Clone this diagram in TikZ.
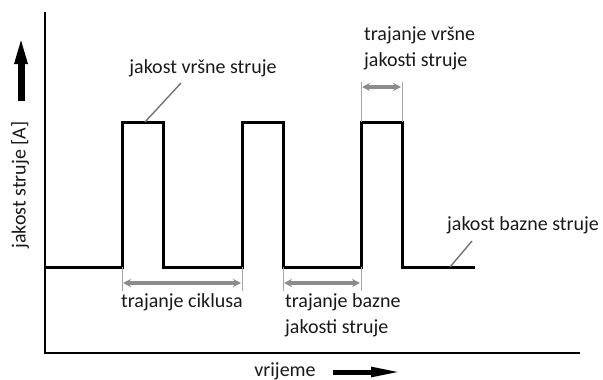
\documentclass[tikz,border=0pt]{standalone}
\usepackage{fontspec}
\setmainfont{Carlito}
\usetikzlibrary{arrows.meta}
\begin{document}
\begin{tikzpicture}[x=1pt,y=-1pt,
  lbl/.style={inner sep=0pt,font=\fontsize{20}{26}\selectfont,text=black!90},
  wave/.style={line width=3pt,line join=miter},
  axis/.style={line width=2pt},
  dim/.style={draw=black!45,line width=3.4pt,{Stealth[length=8pt,width=8pt]}-{Stealth[length=8pt,width=8pt]}},
  tick/.style={draw=black!35,line width=1pt},
  lead/.style={draw=black!55,line width=1.4pt},
  bigarrow/.style={line width=7pt,-{Triangle[length=32pt,width=11pt]}}]
\useasboundingbox (0,0) rectangle (603,380);
% axes
\coordinate (o) at (45,353);
\coordinate (ytop) at (45,12);
\coordinate (xend) at (580,353);
\draw[axis] (ytop) -- (o) -- (xend);
% waveform
\draw[wave] (45,267) -- (122,267) -- (122,122) -- (163,122) -- (163,267) -- (242,267) -- (242,122) -- (283,122) -- (283,267) -- (361,267) -- (361,122) -- (402,122) -- (402,267) -- (475,267);
% ticks
\draw[tick] (122,267) -- (122,291);
\draw[tick] (242,267) -- (242,291);
\draw[tick] (283,267) -- (283,291);
\draw[tick] (361,267) -- (361,291);
\draw[tick] (361,122) -- (361,82);
\draw[tick] (402,122) -- (402,82);
% dimension arrows
\coordinate (c1) at (123,283); \coordinate (c2) at (241,283);
\coordinate (b1) at (284,283); \coordinate (b2) at (360,283);
\coordinate (p1) at (362,87); \coordinate (p2) at (401,87);
\draw[dim] (c1) -- (c2);
\draw[dim] (b1) -- (b2);
\draw[dim] (p1) -- (p2);
% labels
\node[lbl] (vrs) at (203,68) {jakost vršne struje};
\node[lbl,align=left,anchor=west] (tvr) at (364,48) {trajanje vršne\\jakosti struje};
\node[lbl] (cik) at (182,302) {trajanje ciklusa};
\node[lbl,align=left,anchor=west] (tbz) at (285,315) {trajanje bazne\\jakosti struje};
\node[lbl] (baz) at (523,225) {jakost bazne struje};
\node[lbl] (vri) at (285,371) {vrijeme};
\node[lbl,rotate=90] (yl) at (20,185) {jakost struje [A]};
% leaders
\coordinate (l1a) at (145,122); \coordinate (l1b) at (181,83);
\coordinate (l2a) at (450,267); \coordinate (l2b) at (472,241);
\draw[lead] (l1a) -- (l1b);
\draw[lead] (l2a) -- (l2b);
% big arrows
\coordinate (ya) at (21,101); \coordinate (yb) at (21,32);
\draw[bigarrow] (ya) -- (yb);
\coordinate (xa) at (333,372); \coordinate (xb) at (403,372);
\draw[bigarrow,line width=5pt,-{Triangle[length=32pt,width=9pt]}] (xa) -- (xb);
\end{tikzpicture}
\end{document}
